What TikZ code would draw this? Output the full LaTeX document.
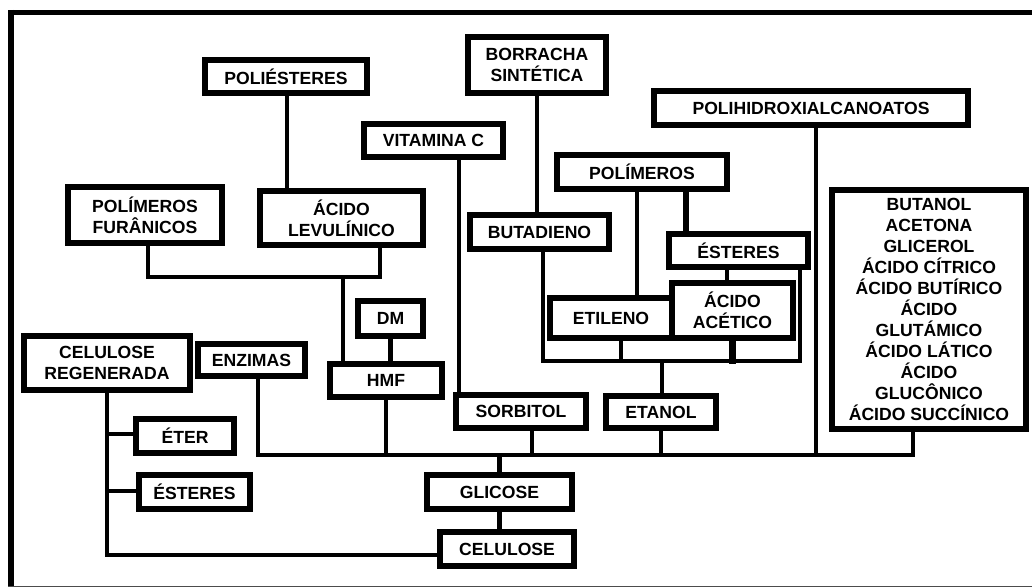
\documentclass[tikz,border=0pt]{standalone}
\usepackage{fontspec}
\setmainfont{Liberation Sans}
\usetikzlibrary{backgrounds}
\newcommand\bx[6]{\node[box, minimum width={#4-#2-6}, minimum height={#5-#3-6}] (#1) at ({(#2+#4)/2},{(#3+#5)/2}) {#6};}
\begin{document}
\begin{tikzpicture}[x=1pt,y=-1pt,
  box/.style={draw=black, line width=6pt, fill=white, inner sep=0pt, align=center,
    font=\fontsize{17.6}{21}\selectfont\bfseries, text=black},
  conn/.style={draw=black, line width=4.5pt, line cap=rect},
  thickconn/.style={conn, line width=6.5pt},
  frame/.style={draw=black, line width=5.5pt}]
\useasboundingbox (0,0) rectangle (1032,588);
% frame
\draw[frame] (8,12.5) -- (1032,12.5);
\draw[frame, line width=6pt] (11,10) -- (11,587);
\draw[draw=black!70, line width=1.5pt] (8,586.5) -- (1032,586.5);
% boxes
\bx{poli}{202}{57}{370}{96}{POLIÉSTERES}
\bx{borr}{465}{34}{609}{96}{BORRACHA\\SINTÉTICA}
\bx{phb}{651}{88}{971}{128}{POLIHIDROXIALCANOATOS}
\bx{vitc}{361}{121}{506}{160}{VITAMINA C}
\bx{pfur}{65}{184}{225}{246}{POLÍMEROS\\FURÂNICOS}
\bx{lev}{257}{188}{426}{248}{ÁCIDO\\LEVULÍNICO}
\bx{pol}{554}{152}{730}{192}{POLÍMEROS}
\bx{buta}{467}{212}{612}{252}{BUTADIENO}
\bx{est2}{666}{231}{811}{270}{ÉSTERES}
\bx{etil}{547}{295}{675}{341}{ETILENO}
\bx{acet}{669}{280}{796}{341}{ÁCIDO\\ACÉTICO}
\bx{butl}{829}{187}{1029}{432}{BUTANOL\\ACETONA\\GLICEROL\\ÁCIDO CÍTRICO\\ÁCIDO BUTÍRICO\\ÁCIDO\\GLUTÁMICO\\ÁCIDO LÁTICO\\ÁCIDO\\GLUCÔNICO\\ÁCIDO SUCCÍNICO}
\bx{dm}{355}{298}{426}{339}{DM}
\bx{cr}{21}{333}{193}{393}{CELULOSE\\REGENERADA}
\bx{enz}{195}{341}{308}{379}{ENZIMAS}
\bx{hmf}{327}{361}{445}{400}{HMF}
\bx{sorb}{453}{392}{589}{431}{SORBITOL}
\bx{etan}{603}{393}{719}{431}{ETANOL}
\bx{eter}{133}{416}{237}{456}{ÉTER}
\bx{est1}{136}{472}{253}{512}{ÉSTERES}
\bx{glic}{424}{472}{575}{512}{GLICOSE}
\bx{cel}{437}{529}{577}{569}{CELULOSE}
% junctions
\coordinate (jf) at (343,277);
\coordinate (mainL) at (258,455);
\coordinate (mainR) at (913,455);
\coordinate (brk) at (662,361);
\coordinate (pS) at ([xshift=1pt]poli.south);
\coordinate (levB) at ([xshift=38.5pt]lev.south);
\coordinate (furB) at ([xshift=3pt]pfur.south);
\coordinate (sorbB) at ([xshift=11pt]sorb.south);
\coordinate (phbB) at ([xshift=5pt]phb.south);
\coordinate (vitB) at ([xshift=25.5pt]vitc.south);
\coordinate (butaB) at ([xshift=3.5pt]buta.south);
\coordinate (estR) at ([xshift=61.5pt]est2.south);
\coordinate (estL) at ([xshift=-11.5pt]est2.south);
\coordinate (etilB) at ([xshift=10pt]etil.south);
\coordinate (polL) at ([xshift=-5pt]pol.south);
\coordinate (polR) at ([xshift=44pt]pol.south);
\coordinate (celW) at ([yshift=-6pt]cel.west);
\coordinate (eterW) at ([yshift=2pt]eter.west);
\coordinate (est1W) at ([yshift=1pt]est1.west);
\begin{pgfonlayer}{background}
\draw[conn] (pS) -- (pS |- lev.north);
\draw[conn] (furB) |- (levB |- jf) -- (levB);
\draw[conn] (jf) -- (jf |- hmf.north);
\draw[conn] (dm.south) -- (dm.south |- hmf.north);
\draw[conn] (enz.south -| mainL) -- (mainL) -- (mainR) -- (mainR |- butl.south);
\draw[conn] (hmf.south) -- (hmf.south |- mainL);
\draw[conn] (sorbB) -- (sorbB |- mainL);
\draw[conn] (etan.south) -- (etan.south |- mainL);
\draw[conn] (glic.north |- mainL) -- (glic.north);
\draw[conn] (phbB) -- (phbB |- mainL);
\draw[conn] (vitB) -- (vitB |- sorb.north);
\draw[conn] (borr.south) -- (borr.south |- buta.north);
\draw[conn] (butaB) |- (estR |- brk) -- (estR);
\draw[conn] (etilB) -- (etilB |- brk);
\draw[thickconn] (acet.south) -- (acet.south |- brk);
\draw[conn] (brk) -- (brk |- etan.north);
\draw[conn] (polL) -- (polL |- etil.north);
\draw[thickconn] (polR) -- (polR |- est2.north);
\draw[conn] (estL) -- (estL |- acet.north);
\draw[conn] (celW) -| (cr.south);
\draw[conn] (eterW) -- (eterW -| cr.south);
\draw[conn] (est1W) -- (est1W -| cr.south);
\draw[conn] (glic.south) -- (glic.south |- cel.north);
\end{pgfonlayer}
\end{tikzpicture}
\end{document}
